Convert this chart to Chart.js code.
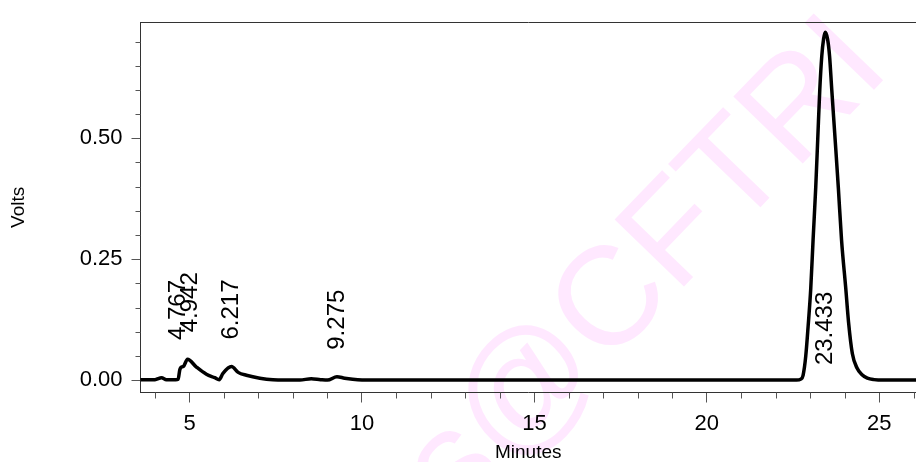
<!DOCTYPE html>
<html>
<head>
<meta charset="utf-8">
<script src="https://cdn.jsdelivr.net/npm/chart.js@4/dist/chart.umd.min.js"></script>
<style>
  html, body { margin: 0; padding: 0; background: #fff; }
  #wrap { width: 916px; height: 462px; }
</style>
</head>
<body>
<div id="wrap"><canvas id="chrom" width="916" height="462"></canvas></div>
<script>
// Chromatogram trace: retention time (min) and detector signal (V)
const minutes = [
  3.58, 4.00, 4.19, 4.33, 4.60, 4.67, 4.72, 4.767, 4.82, 4.942,
  5.20, 5.49, 5.73, 5.86, 5.97, 6.217, 6.41, 6.65, 7.04, 7.42,
  8.20, 8.53, 8.80, 9.00, 9.275, 9.50, 9.73, 10.20, 12.00, 16.00,
  20.00, 22.60, 22.724, 22.79, 22.868, 22.935, 23.013, 23.080, 23.158, 23.216,
  23.274, 23.332, 23.384, 23.433, 23.500, 23.558, 23.622, 23.717, 23.813, 23.905,
  24.027, 24.108, 24.218, 24.354, 24.499, 24.653, 24.847, 25.13, 26.07
];
const volts = [
  0.001, 0.001, 0.005, 0.001, 0.001, 0.002, 0.022, 0.027, 0.028, 0.043,
  0.027, 0.012, 0.005, 0.001, 0.014, 0.028, 0.016, 0.010, 0.004, 0.001,
  0.000, 0.003, 0.001, 0.000, 0.007, 0.004, 0.002, 0.000, 0.000, 0.000,
  0.000, 0.000, 0.002, 0.010, 0.050, 0.110, 0.190, 0.290, 0.400, 0.500,
  0.600, 0.670, 0.705, 0.719, 0.705, 0.670, 0.600, 0.500, 0.397, 0.290,
  0.190, 0.120, 0.055, 0.025, 0.011, 0.004, 0.001, 0.000, 0.000
];

// Integrated peaks (retention times) and their annotations
const peakTimes  = [4.767, 4.942, 6.217, 9.275, 23.433];
const peakLabels = ['4.767', '4.942', '6.217', '9.275', '23.433'];

// Axis ticks
const xTicks = [5, 10, 15, 20, 25];
const xMinorTicks = [4, 6, 7, 8, 9, 11, 12, 13, 14, 16, 17, 18, 19, 21, 22, 23, 24, 26];
const yTicks = [0.00, 0.25, 0.50];
const yMinorTicks = [0.05, 0.10, 0.15, 0.20, 0.30, 0.35, 0.40, 0.45, 0.55, 0.60, 0.65, 0.70];

const FONT = "'Liberation Sans', Arial, Helvetica, sans-serif";

// Light watermark stamped diagonally behind the plot
const watermark = {
  id: 'watermark',
  beforeDraw(chart) {
    const ctx = chart.ctx;
    ctx.save();
    ctx.translate(892, 71);
    ctx.rotate(-46 * Math.PI / 180);
    ctx.fillStyle = '#ffe8ff';
    ctx.font = '140px ' + FONT;
    ctx.textAlign = 'right';
    ctx.textBaseline = 'alphabetic';
    ctx.fillText('s@CFTRI', 0, 0);
    ctx.restore();
  }
};

// Short minor tick marks on both axes
const minorTicks = {
  id: 'minorTicks',
  afterDraw(chart) {
    const ctx = chart.ctx;
    const xs = chart.scales.x, ys = chart.scales.y;
    const area = chart.chartArea;
    ctx.save();
    ctx.strokeStyle = '#555';
    ctx.lineWidth = 1;
    ctx.beginPath();
    xMinorTicks.forEach(v => {
      const px = Math.round(xs.getPixelForValue(v)) + 0.5;
      ctx.moveTo(px, area.bottom);
      ctx.lineTo(px, area.bottom + 6);
    });
    yMinorTicks.forEach(v => {
      const py = Math.round(ys.getPixelForValue(v)) + 0.5;
      ctx.moveTo(area.left, py);
      ctx.lineTo(area.left - 5, py);
    });
    ctx.stroke();
    ctx.restore();
  }
};

// Vertical retention-time labels above each peak
const peakAnnotations = {
  id: 'peakAnnotations',
  afterDatasetsDraw(chart) {
    const ctx = chart.ctx;
    const xs = chart.scales.x, ys = chart.scales.y;
    const xsPix = peakTimes.map(t => xs.getPixelForValue(t));
    // spread labels that would sit on top of each other
    const minGap = 12;
    for (let i = 1; i < xsPix.length; i++) {
      const gap = xsPix[i] - xsPix[i - 1];
      if (gap < minGap) {
        const d = (minGap - gap) / 2;
        xsPix[i - 1] -= d;
        xsPix[i] += d;
      }
    }
    ctx.save();
    ctx.fillStyle = '#000';
    ctx.font = '24px ' + FONT;
    ctx.textAlign = 'left';
    ctx.textBaseline = 'middle';
    peakTimes.forEach((t, i) => {
      const idx = minutes.indexOf(t);
      const h = volts[idx];
      let y;
      if (h > 0.3) {
        y = ys.getPixelForValue(0) - 15;      // tall peak: label sits inside near the base
      } else {
        y = ys.getPixelForValue(h) - 27;      // small peak: label above the apex
      }
      ctx.save();
      ctx.translate(xsPix[i], y);
      ctx.rotate(-Math.PI / 2);
      ctx.fillText(peakLabels[i], 0, 0);
      ctx.restore();
    });
    ctx.restore();
  }
};

new Chart(document.getElementById('chrom'), {
  type: 'line',
  data: {
    datasets: [{
      data: minutes.map((m, i) => ({ x: m, y: volts[i] })),
      borderColor: '#000',
      borderWidth: 3.5,
      pointRadius: 0,
      fill: false,
      cubicInterpolationMode: 'monotone',
      borderJoinStyle: 'round',
      borderCapStyle: 'round'
    }]
  },
  options: {
    responsive: false,
    animation: false,
    devicePixelRatio: 1,
    layout: { padding: { top: 18, right: 0, bottom: 0, left: 0 } },
    plugins: { legend: { display: false }, tooltip: { enabled: false } },
    scales: {
      x: {
        type: 'linear',
        position: 'bottom',
        min: 3.579,
        max: 26.064,
        afterFit(s) { s.height = 69.5; },
        afterBuildTicks(s) { s.ticks = xTicks.map(v => ({ value: v })); },
        ticks: {
          font: { family: FONT, size: 22 },
          color: '#000',
          padding: 8,
          maxRotation: 0,
          autoSkip: false,
          callback: v => String(v)
        },
        grid: { drawOnChartArea: false, drawTicks: true, tickLength: 10, tickColor: '#555', tickWidth: 1 },
        border: { display: true, color: '#333', width: 1 },
        title: {
          display: true, text: 'Minutes', color: '#000',
          font: { family: FONT, size: 19, lineHeight: 1 },
          padding: { top: 0, bottom: 0 }
        }
      },
      xTop: {
        type: 'linear',
        position: 'top',
        min: 3.579,
        max: 26.064,
        afterFit(s) { s.height = 0; },
        ticks: { display: false },
        grid: { display: false, drawTicks: false },
        border: { display: true, color: '#333', width: 1 }
      },
      y: {
        type: 'linear',
        position: 'left',
        min: -0.0256,
        max: 0.740,
        afterFit(s) { s.width = 140.5; },
        afterBuildTicks(s) { s.ticks = yTicks.map(v => ({ value: v })); },
        ticks: {
          font: { family: FONT, size: 22 },
          color: '#000',
          padding: 9,
          callback: v => Number(v).toFixed(2)
        },
        grid: { drawOnChartArea: false, drawTicks: true, tickLength: 9, tickColor: '#555', tickWidth: 1 },
        border: { display: true, color: '#333', width: 1 },
        title: {
          display: true, text: 'Volts', color: '#000',
          font: { family: FONT, size: 19, lineHeight: 1 },
          padding: { top: 9, bottom: 0 }
        }
      }
    }
  },
  plugins: [watermark, minorTicks, peakAnnotations]
});
</script>
</body>
</html>
